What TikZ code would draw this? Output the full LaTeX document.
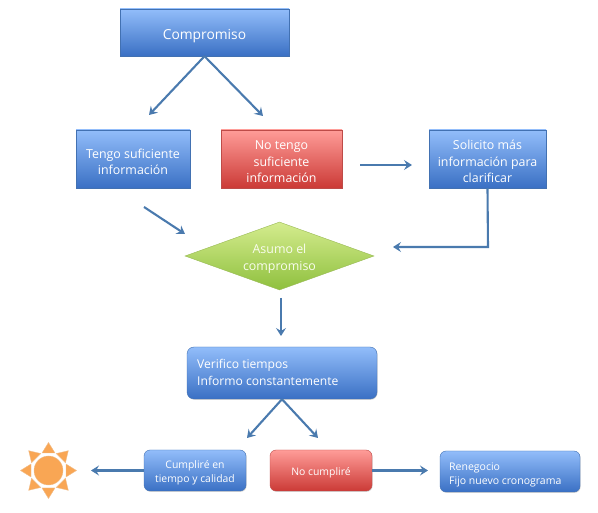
\documentclass[tikz,border=0pt]{standalone}
\usepackage{fontspec}
\setmainfont{Open Sans}
\usetikzlibrary{shapes.geometric, arrows.meta, shadows}
\definecolor{boxline}{RGB}{66, 113, 178}
\definecolor{boxtop}{RGB}{146, 189, 250}
\definecolor{boxbottom}{RGB}{58, 112, 196}
\definecolor{redline}{RGB}{190, 75, 72}
\definecolor{redtop}{RGB}{255, 156, 152}
\definecolor{redbottom}{RGB}{203, 58, 54}
\definecolor{greenline}{RGB}{152, 185, 84}
\definecolor{greentop}{RGB}{212, 236, 142}
\definecolor{greenbottom}{RGB}{143, 192, 62}
\definecolor{sunfill}{RGB}{249, 166, 84}
\definecolor{sunline}{RGB}{240, 190, 140}
\definecolor{arrowblue}{RGB}{74, 122, 174}
\newcommand{\alto}{\rule{0pt}{1.2em}}
\tikzset{
  basebox/.style={align=center, inner sep=2pt, text=white, font=\fontsize{12.4}{16.5}\selectfont,
    drop shadow={shadow xshift=0.6pt, shadow yshift=-0.8pt, opacity=0.35}},
  bluebox/.style={basebox, draw=boxline, top color=boxtop, bottom color=boxbottom},
  redbox/.style={basebox, draw=redline, top color=redtop, bottom color=redbottom},
  flecha/.style={draw=arrowblue, line width=2.1pt, -{Stealth[length=8pt, width=10pt, inset=3pt]}}
}

\begin{document}
\begin{tikzpicture}[x=1pt, y=-1pt]
  \useasboundingbox (0,0) rectangle (598,513);

  % upper boxes
  \node[bluebox, minimum width=169pt, minimum height=47pt, font=\fontsize{13.8}{16}\selectfont] (compromiso) at (204.5,32.5) {\alto Compromiso};
  \node[bluebox, minimum width=114pt, minimum height=58pt] (tengo) at (133,159) {\alto Tengo suficiente\\información};
  \node[redbox, minimum width=121pt, minimum height=58pt] (notengo) at (281.5,159) {\alto No tengo\\suficiente\\información};
  \node[bluebox, minimum width=117pt, minimum height=58pt] (solicito) at (487.5,159) {\alto Solicito más\\información para\\clarificar};

  \node[diamond, aspect=2.78, inner sep=0pt, minimum width=189pt, minimum height=68pt, draw=greenline,
    top color=greentop, bottom color=greenbottom, text=white!85!greentop, align=center,
    font=\fontsize{12.4}{17.5}\selectfont] (asumo) at (279.5,256) {\alto Asumo el\\compromiso};

  % lower boxes
  \node[bluebox, rounded corners=7pt, minimum width=190pt, minimum height=52pt] (verifico) at (282,373) {};
  \node[anchor=west, align=left, text=white, inner sep=0pt, font=\fontsize{12.1}{17}\selectfont] (verificotxt) at (197,372) {Verifico tiempos\\Informo constantemente};
  \node[bluebox, rounded corners=6pt, minimum width=102pt, minimum height=41pt, font=\fontsize{10.4}{14}\selectfont] (cumplire) at (195,470.5) {\alto Cumpliré en\\tiempo y calidad};
  \node[redbox, rounded corners=6pt, minimum width=102pt, minimum height=41pt, font=\fontsize{10.4}{14}\selectfont] (nocumplire) at (321,470.5) {\alto No cumpliré};
  \node[bluebox, rounded corners=6pt, minimum width=140pt, minimum height=41pt] (renegocio) at (510,471.5) {};
  \node[anchor=west, align=left, text=white, inner sep=0pt, font=\fontsize{10.5}{14}\selectfont] (renegociotxt) at (449,475) {Renegocio\\Fijo nuevo cronograma};

  % sun
  \foreach \ang in {0,45,...,315} {
    \fill[sunfill, draw=sunline, line width=0.4pt, rotate around={\ang:(48.5,470.5)}]
      (66,464) -- (76.5,470.5) -- (66,477) -- cycle;
  }
  \node[circle, minimum size=29pt, inner sep=0pt, draw=sunline, fill=sunfill] (sol) at (48.5,470.5) {};

  % free ends of the connectors
  \coordinate (a1) at (149,115);
  \coordinate (a2) at (263,116);
  \coordinate (b0) at (144,207);
  \coordinate (b1) at (185,234);
  \coordinate (c0) at (360,165);
  \coordinate (c1) at (412,165);
  \coordinate (d0) at (488,247);
  \coordinate (d1) at (393,247);
  \coordinate (e0) at (281,298);
  \coordinate (e1) at (281,336);
  \coordinate (f1) at (247,438);
  \coordinate (f2) at (318,438);
  \coordinate (g1) at (91,470.5);
  \coordinate (h1) at (428,470.5);

  \draw[flecha] (compromiso.south) -- (a1);
  \draw[flecha] (compromiso.south) -- (a2);
  \draw[flecha] (b0) -- (b1);
  \draw[flecha] (c0) -- (c1);
  \draw[flecha] (solicito.south) -- (d0) -- (d1);
  \draw[flecha] (e0) -- (e1);
  \draw[flecha] (verifico.south) -- (f1);
  \draw[flecha] (verifico.south) -- (f2);
  \draw[flecha] (cumplire.west) -- (g1);
  \draw[flecha] (nocumplire.east) -- (h1);
\end{tikzpicture}
\end{document}
